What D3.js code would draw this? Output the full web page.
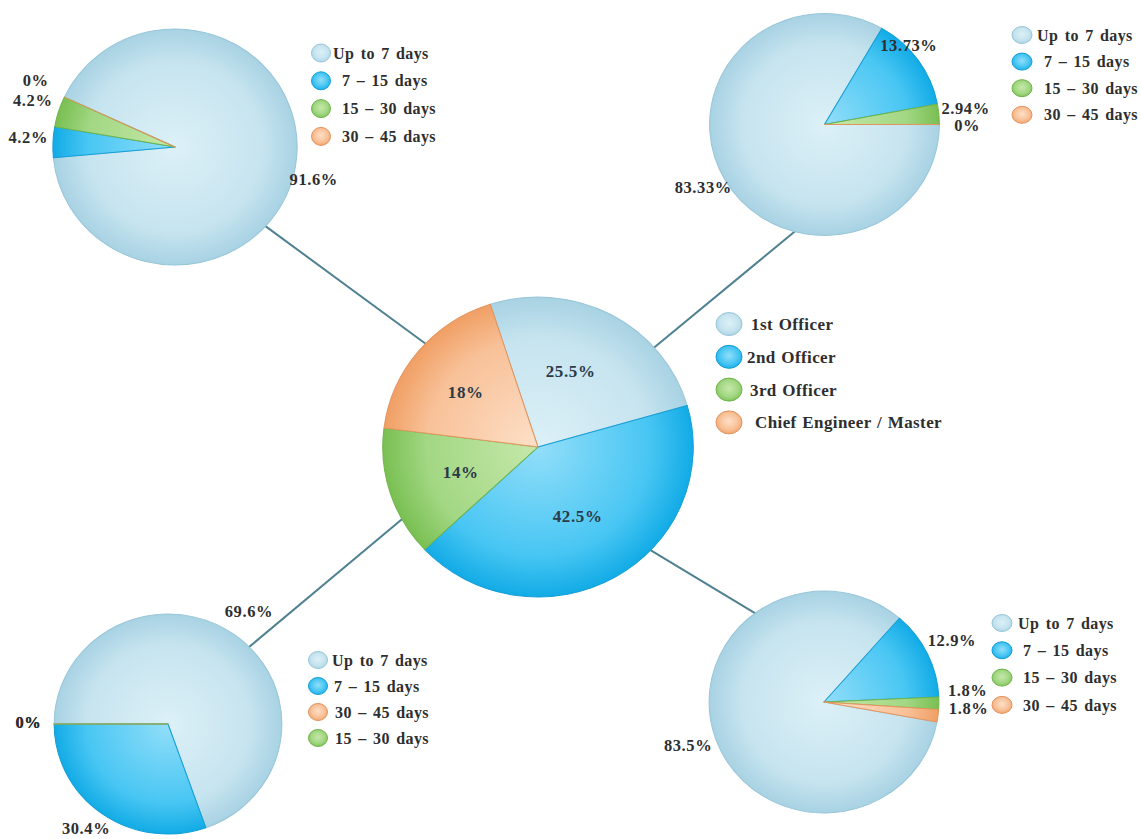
<!DOCTYPE html>
<html>
<head>
<meta charset="utf-8">
<script src="https://cdn.jsdelivr.net/npm/d3@7"></script>
<style>
  html, body { margin: 0; padding: 0; background: #fff; }
  svg text {
    font-family: "Liberation Serif", "Times New Roman", serif;
    font-weight: bold;
    fill: #2e2e2e;
  }
</style>
</head>
<body>
<svg id="chart" width="1141" height="839"></svg>
<script>
// ---- Data -------------------------------------------------------------
// Share of respondents by rank (centre pie)
const ranks = ["1st Officer", "2nd Officer", "3rd Officer", "Chief Engineer / Master"];
const rankShares = [25.5, 42.5, 14, 18];

// Duration categories used by the four rank pies
const durations = ["Up to 7 days", "7 – 15 days", "15 – 30 days", "30 – 45 days"];
const thirdOfficerOrder = ["Up to 7 days", "7 – 15 days", "30 – 45 days", "15 – 30 days"];

// Duration breakdown per rank (%)
const chiefDurations = [91.6, 4.2, 4.2, 0];
const firstOfficerDurations = [83.33, 13.73, 2.94, 0];
const thirdOfficerDurations = [69.6, 30.4, 0, 0];
const secondOfficerDurations = [83.5, 12.9, 1.8, 1.8];

// ---- Styling ----------------------------------------------------------
const tones = {
  pale:   { hi: "#dcf0f7", mid: "#c6e4ef", lo: "#a8d2e3", line: "#98c6d9" },
  blue:   { hi: "#92def9", mid: "#48c6f3", lo: "#12abe6", line: "#149fd6" },
  green:  { hi: "#c6e8aa", mid: "#a2d783", lo: "#79bf52", line: "#70b54a" },
  orange: { hi: "#fde0c8", mid: "#f8c198", lo: "#f09f64", line: "#e39560" }
};
const rankTone = d3.scaleOrdinal().domain(ranks).range(["pale", "blue", "green", "orange"]);
const durationTone = d3.scaleOrdinal().domain(durations).range(["pale", "blue", "green", "orange"]);

const sx = 1.035;            // slight horizontal stretch of the whole drawing
const deg = Math.PI / 180;

// Pie placement, legends and connector anchor angles (degrees, clockwise from 12 o'clock)
const pies = [
  { id: "ranks",  cats: ranks, values: rankShares, tone: rankTone,
    cx: 538, cy: 447, r: 150, start: -17.9, inside: true,
    legend: { x: 729, y: 324, step: 32.8, rx: 13, ry: 11.5, tx: 20, indent: [2, -2, 1, 6] },
    nudge: [[-6, -6], [-1, 0], [1, 1], [-9, -4]] },
  { id: "chief",  cats: durations, values: chiefDurations, tone: durationTone,
    cx: 175, cy: 147, r: 118, start: -65,
    legend: { x: 321, y: 53, step: 27.8, rx: 9.5, ry: 9, tx: 12, indent: [0, 9, 9, 9] },
    link: [132.3, 313.7],
    nudge: [[-4, 8], [-2, -4], [-4, -5], [-8, -8]] },
  { id: "first",  cats: durations, values: firstOfficerDurations, tone: durationTone,
    cx: 824.5, cy: 124.5, r: 111, start: 90,
    legend: { x: 1022, y: 35, step: 26.6, rx: 10, ry: 8.5, tx: 15, indent: [0, 7, 7, 7] },
    link: [194, 48.4],
    nudge: [[-2, -4], [-28, -2], [4, -4], [5, 1]] },
  { id: "third",  cats: thirdOfficerOrder, values: thirdOfficerDurations, tone: durationTone,
    cx: 168, cy: 724, r: 110, start: -90,
    legend: { x: 318, y: 660, step: 26, rx: 9.5, ry: 8.5, tx: 14, indent: [0, 2, 3, 3] },
    link: [45.4, 241.5],
    nudge: [[2, -5], [-3, -4], [-3, -2], [-3, -2]] },
  { id: "second", cats: durations, values: secondOfficerDurations, tone: durationTone,
    cx: 824, cy: 702, r: 111, start: 100.4,
    legend: { x: 1002, y: 623, step: 27.3, rx: 10, ry: 8.5, tx: 16, indent: [0, 5, 5, 5] },
    link: [323.7, 133.7],
    nudge: [[-6, -1], [4, -4], [6, -13], [8, -10]] }
];

const svg = d3.select("#chart");
const defs = svg.append("defs");
const centre = pies[0];

// Point on a (horizontally stretched) circle at a given angle
function onRim(p, angleDeg, rr) {
  const a = angleDeg * deg;
  return [p.cx + sx * rr * Math.sin(a), p.cy - rr * Math.cos(a)];
}

// ---- Connectors (drawn beneath the pies) ------------------------------
const linkLayer = svg.append("g");
pies.filter(p => p.link).forEach(p => {
  const a = onRim(p, p.link[0], p.r - 3);
  const b = onRim(centre, p.link[1], centre.r - 3);
  linkLayer.append("line")
    .attr("x1", a[0]).attr("y1", a[1])
    .attr("x2", b[0]).attr("y2", b[1])
    .attr("stroke", "#4f8190")
    .attr("stroke-width", 2);
});

// ---- Gradients ----------------------------------------------------------
pies.forEach((p, i) => {
  Object.keys(tones).forEach(k => {
    const t = tones[k];
    const g = defs.append("radialGradient")
      .attr("id", `slice-${i}-${k}`)
      .attr("gradientUnits", "userSpaceOnUse")
      .attr("cx", 0).attr("cy", 0).attr("r", p.r);
    g.append("stop").attr("offset", 0).attr("stop-color", t.hi);
    g.append("stop").attr("offset", 0.72).attr("stop-color", t.mid);
    g.append("stop").attr("offset", 1).attr("stop-color", t.lo);
  });
});
Object.keys(tones).forEach(k => {
  const t = tones[k];
  const g = defs.append("radialGradient")
    .attr("id", `marker-${k}`)
    .attr("cx", 0.5).attr("cy", 0.45).attr("r", 0.6);
  g.append("stop").attr("offset", 0).attr("stop-color", t.hi);
  g.append("stop").attr("offset", 0.6).attr("stop-color", t.mid);
  g.append("stop").attr("offset", 1).attr("stop-color", t.lo);
});

// ---- Pies ---------------------------------------------------------------
pies.forEach((p, i) => {
  const rows = p.cats.map((c, j) => ({ cat: c, value: p.values[j] }));
  const pie = d3.pie().sort(null).value(d => d.value)
    .startAngle(p.start * deg).endAngle(p.start * deg + 2 * Math.PI);
  const arcs = pie(rows);
  const arc = d3.arc().innerRadius(0).outerRadius(p.r);

  const g = svg.append("g")
    .attr("transform", `translate(${p.cx},${p.cy}) scale(${sx},1)`);
  g.selectAll("path").data(arcs).join("path")
    .attr("d", arc)
    .attr("fill", d => `url(#slice-${i}-${p.tone(d.data.cat)})`)
    .attr("stroke", d => tones[p.tone(d.data.cat)].line)
    .attr("stroke-width", 1)
    .attr("stroke-linejoin", "round");

  // Percentage labels
  const labels = svg.append("g");
  arcs.forEach((d, j) => {
    const mid = (d.startAngle + d.endAngle) / 2 / deg;
    const rr = p.inside ? p.r * 0.53 : p.r + 22;
    const [x, y] = onRim(p, mid, rr);
    const n = p.nudge ? p.nudge[j] : [0, 0];
    labels.append("text")
      .attr("x", x + n[0]).attr("y", y + n[1])
      .attr("dy", "0.35em")
      .attr("text-anchor", "middle")
      .attr("font-size", p.inside ? 17 : 16.5)
      .attr("letter-spacing", 0.6)
      .style("fill", p.inside ? "#2b3a47" : "#2e2e2e")
      .text(d.data.value + "%");
  });

  // Legend
  const L = p.legend;
  const lg = svg.append("g");
  p.cats.forEach((c, j) => {
    const y = L.y + j * L.step;
    const k = p.tone(c);
    lg.append("ellipse")
      .attr("cx", L.x).attr("cy", y)
      .attr("rx", L.rx).attr("ry", L.ry)
      .attr("fill", `url(#marker-${k})`)
      .attr("stroke", tones[k].line)
      .attr("stroke-width", 1);
    lg.append("text")
      .attr("x", L.x + L.tx + L.indent[j]).attr("y", y)
      .attr("dy", "0.35em")
      .attr("font-size", p.inside ? 17 : 16)
      .attr("letter-spacing", 0.4)
      .attr("word-spacing", p.inside ? 1 : 2)
      .text(c);
  });
});
</script>
</body>
</html>
